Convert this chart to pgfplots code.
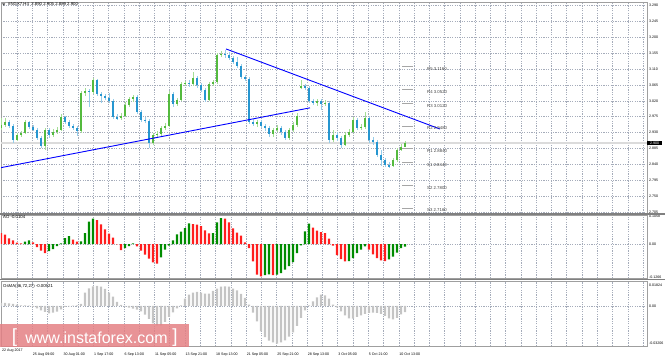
\documentclass[border=0pt]{standalone}
\usepackage{fontspec}
\setmainfont{Liberation Sans}
\usepackage{pgfplots}
\pgfplotsset{compat=1.18}
\usepackage{pgfplotstable}
\definecolor{upbody}{RGB}{84,186,62}
\definecolor{upwick}{RGB}{165,222,150}
\definecolor{dnbody}{RGB}{38,150,208}
\definecolor{dnwick}{RGB}{150,205,235}
\definecolor{aogreen}{RGB}{0,140,0}
\definecolor{aored}{RGB}{255,30,30}
\definecolor{gridc}{RGB}{165,172,186}
\definecolor{sepc}{RGB}{128,128,128}
\definecolor{wm}{RGB}{228,128,132}
\definecolor{osma}{RGB}{196,196,196}
\newcommand\axf{\fontsize{3.6}{4}\selectfont}
\newcommand\txf{\fontsize{4.3}{5}\selectfont}

\pgfplotstableread{
x o h l c
1 2.943 2.971 2.937 2.952
5 2.952 2.971 2.946 2.960
17 2.909 2.929 2.906 2.923
21 2.923 2.935 2.918 2.929
25 2.929 2.966 2.926 2.960
45 2.892 2.943 2.881 2.937
53 2.923 2.940 2.918 2.932
57 2.932 2.946 2.926 2.937
61 2.937 2.983 2.935 2.974
81 2.935 3.048 2.929 3.042
85 3.042 3.056 3.034 3.048
93 3.045 3.085 3.039 3.079
121 2.971 2.986 2.966 2.977
125 2.977 3.017 2.974 3.008
129 3.008 3.031 3.003 3.025
133 3.025 3.037 3.017 3.031
153 2.901 2.929 2.895 2.923
157 2.923 2.935 2.918 2.926
161 2.926 2.949 2.920 2.943
165 2.943 2.957 2.937 2.949
169 2.949 3.048 2.946 3.039
177 3.011 3.028 3.005 3.022
181 3.022 3.073 3.020 3.068
185 3.068 3.076 3.062 3.071
193 3.068 3.102 3.062 3.085
209 3.022 3.073 3.020 3.068
213 3.068 3.079 3.062 3.073
217 3.073 3.156 3.068 3.150
221 3.150 3.161 3.144 3.153
257 2.954 2.966 2.946 2.960
273 2.926 2.943 2.918 2.937
277 2.937 2.952 2.932 2.943
289 2.915 2.943 2.909 2.937
293 2.937 2.960 2.932 2.952
297 2.952 2.986 2.946 2.977
301 3.059 3.079 3.054 3.062
317 3.014 3.025 3.005 3.020
325 3.011 3.022 3.005 3.014
333 2.909 2.937 2.903 2.923
345 2.895 2.932 2.892 2.923
349 2.923 2.940 2.918 2.932
353 2.932 2.974 2.929 2.966
361 2.943 2.954 2.937 2.946
365 2.946 2.988 2.940 2.971
393 2.835 2.858 2.832 2.852
397 2.852 2.886 2.847 2.881
401 2.881 2.898 2.878 2.889
405 2.890 2.905 2.889 2.900
}\upc

\pgfplotstableread{
x o h l c
9 2.960 2.966 2.943 2.949
13 2.949 2.954 2.901 2.909
29 2.960 2.963 2.940 2.946
33 2.946 2.952 2.935 2.937
37 2.937 2.943 2.909 2.915
41 2.915 2.920 2.886 2.892
49 2.937 2.943 2.915 2.923
65 2.974 2.977 2.954 2.960
69 2.960 2.966 2.943 2.949
73 2.949 2.954 2.937 2.943
77 2.943 2.949 2.920 2.935
89 3.048 3.053 3.002 3.045
97 3.079 3.082 3.034 3.039
101 3.039 3.045 3.014 3.034
105 3.034 3.039 3.022 3.028
109 3.028 3.042 3.014 3.020
113 3.020 3.025 2.969 2.974
117 2.974 2.983 2.966 2.971
137 3.031 3.037 2.983 2.988
141 2.988 2.994 2.960 2.966
145 2.966 2.974 2.957 2.963
149 2.963 2.969 2.886 2.901
173 3.039 3.045 3.003 3.011
189 3.071 3.079 3.059 3.068
197 3.085 3.090 3.056 3.065
201 3.065 3.071 3.045 3.051
205 3.051 3.056 3.017 3.022
225 3.153 3.164 3.141 3.150
229 3.150 3.158 3.136 3.141
233 3.141 3.147 3.124 3.130
237 3.130 3.144 3.113 3.119
241 3.119 3.124 3.082 3.088
245 3.088 3.093 3.076 3.082
249 3.082 3.088 2.954 2.960
253 2.960 2.969 2.949 2.954
261 2.960 2.966 2.943 2.949
265 2.949 2.954 2.935 2.943
269 2.943 2.949 2.918 2.926
281 2.943 2.949 2.923 2.932
285 2.932 2.937 2.909 2.915
305 3.062 3.068 3.051 3.056
309 3.056 3.062 3.014 3.020
313 3.020 3.025 3.008 3.014
321 3.020 3.025 2.994 3.011
329 3.014 3.020 2.901 2.909
337 2.923 2.932 2.906 2.915
341 2.915 2.920 2.886 2.895
357 2.966 2.971 2.937 2.943
369 2.971 2.977 2.901 2.909
373 2.909 2.917 2.895 2.903
377 2.903 2.909 2.861 2.866
381 2.866 2.881 2.835 2.852
385 2.852 2.858 2.832 2.838
389 2.838 2.847 2.830 2.835
}\dnc

\pgfplotstableread{
x v
25 0.0089
29 0.0139
49 -0.0266
53 -0.0190
57 -0.0076
61 0.0025
65 0.0228
69 0.0304
81 0.0101
85 0.0418
89 0.0849
93 0.0963
125 -0.0152
129 -0.0076
133 0.0025
161 -0.0507
165 -0.0215
169 -0.0063
173 0.0139
177 0.0367
181 0.0469
185 0.0608
189 0.0786
213 0.0418
217 0.0823
221 0.0988
265 -0.1178
269 -0.1153
277 -0.1166
281 -0.1102
285 -0.0976
289 -0.0836
293 -0.0684
297 -0.0342
301 -0.0051
305 0.0481
309 0.0773
349 -0.0646
353 -0.0532
357 -0.0342
361 -0.0215
365 -0.0089
389 -0.0583
393 -0.0481
397 -0.0329
401 -0.0152
405 -0.0104
}\aoup

\pgfplotstableread{
x v
1 0.0418
5 0.0355
9 0.0215
13 0.0139
17 0.0051
21 0.0025
33 0.0063
37 -0.0114
41 -0.0253
45 -0.0342
73 0.0165
77 0.0089
97 0.0912
101 0.0748
105 0.0557
109 0.0393
113 0.0241
117 -0.0013
121 -0.0228
137 -0.0089
141 -0.0253
145 -0.0405
149 -0.0557
153 -0.0697
157 -0.0748
193 0.0760
197 0.0735
201 0.0684
205 0.0519
209 0.0405
225 0.0963
229 0.0823
233 0.0595
237 0.0431
241 0.0317
245 0.0063
249 -0.0152
253 -0.0659
257 -0.1166
261 -0.1229
273 -0.1178
313 0.0621
317 0.0507
321 0.0456
325 0.0418
329 0.0203
333 -0.0063
337 -0.0418
341 -0.0570
345 -0.0659
369 -0.0215
373 -0.0393
377 -0.0532
381 -0.0621
385 -0.0646
}\aodn

\pgfplotstableread{
x v
1 0.00258
5 0.00258
9 0.00229
13 0.00172
17 0.00115
21 0.00057
25 0.00057
29 0.00029
33 -0.00086
37 -0.00201
41 -0.00373
45 -0.00516
49 -0.00631
53 -0.00573
57 -0.00487
61 -0.00287
65 -0.00086
69 -0.00029
73 0.00029
77 0.00057
81 0.00172
85 0.01147
89 0.01520
93 0.01692
97 0.01720
101 0.01663
105 0.01462
109 0.01147
113 0.00803
117 0.00344
121 0.00086
125 -0.00057
129 -0.00143
133 -0.00229
137 -0.00315
141 -0.00459
145 -0.00745
149 -0.01118
153 -0.01491
157 -0.01663
161 -0.01663
165 -0.01376
169 -0.00946
173 -0.00545
177 -0.00201
181 0.00057
185 0.00631
189 0.00975
193 0.01147
197 0.01204
201 0.01147
205 0.01061
209 0.01061
213 0.01290
217 0.01491
221 0.01663
225 0.01692
229 0.01663
233 0.01491
237 0.01347
241 0.01032
245 0.00688
249 0.00115
253 -0.00573
257 -0.01319
261 -0.02179
265 -0.02666
269 -0.02982
273 -0.03125
277 -0.03240
281 -0.03125
285 -0.02953
289 -0.02638
293 -0.02265
297 -0.01720
301 -0.01032
305 -0.00373
309 0.00057
313 0.00401
317 0.00745
321 0.00975
325 0.00917
329 0.00631
333 0.00115
337 -0.00115
341 -0.00459
345 -0.00803
349 -0.01061
353 -0.01089
357 -0.00946
361 -0.00803
365 -0.00688
369 -0.00602
373 -0.00573
377 -0.00602
381 -0.00688
385 -0.00860
389 -0.01061
393 -0.01147
397 -0.01032
401 -0.00717
405 -0.00521
}\osmat

\pgfplotsset{
  panel/.style={
    scale only axis, width=646pt, xmin=1, xmax=647,
    clip mode=individual,
    scaled y ticks=false, scaled x ticks=false,
    axis line style={draw=gray!75, line width=0.5pt},
    xtick={17,32.27,...,644}, xticklabels={},
    xmajorgrids,
    major grid style={gridc, dash pattern=on 1.2pt off 1.2pt, line width=0.5pt},
    tick style={draw=none},
    yticklabel pos=right,
    yticklabel style={font=\axf, anchor=west, inner sep=0pt, xshift=2pt},
    xticklabel style={font=\axf, anchor=north west, inner sep=0pt, xshift=0.5pt, yshift=-2.6pt},
  },
  candle/.style={draw=none, mark=none, forget plot,
    error bars/.cd, y dir=both, y explicit, error mark=none,
    error bar style={draw=#1, line width=0.75pt}},
  body/.style={draw=none, mark=none, forget plot,
    error bars/.cd, y dir=both, y explicit, error mark=none,
    error bar style={draw=#1, line width=1.5pt}},
}

\begin{document}
\begin{tikzpicture}
% ---------- price panel ----------
\begin{axis}[panel, at={(1pt,144pt)}, anchor=south west, height=211pt,
  ymin=2.702, ymax=3.300, ymajorgrids,
  ytick={2.705,2.750,2.795,2.840,2.885,2.930,2.975,3.020,3.065,3.110,3.155,3.200,3.245,3.290},
  yticklabels={2.705,2.750,2.795,2.840,2.885,2.930,2.975,3.020,3.065,3.110,3.155,3.200,3.245,3.290}]
\addplot[gray!28, line width=1.6pt, forget plot] coordinates {(1,2.900) (647,2.900)};
% wicks
\addplot[candle=upwick] table[x=x, y expr={(\thisrow{h}+\thisrow{l})/2}, y error expr={(\thisrow{h}-\thisrow{l})/2}] {\upc};
\addplot[candle=dnwick] table[x=x, y expr={(\thisrow{h}+\thisrow{l})/2}, y error expr={(\thisrow{h}-\thisrow{l})/2}] {\dnc};
% bodies
\addplot[body=upbody] table[x=x, y expr={(\thisrow{o}+\thisrow{c})/2}, y error expr={abs(\thisrow{c}-\thisrow{o})/2+0.0008}] {\upc};
\addplot[body=dnbody] table[x=x, y expr={(\thisrow{o}+\thisrow{c})/2}, y error expr={abs(\thisrow{c}-\thisrow{o})/2+0.0008}] {\dnc};
% trend lines
\addplot[blue, line width=0.9pt, forget plot] coordinates {(0,2.830) (310,3.000)};
\addplot[blue, line width=0.9pt, forget plot] coordinates {(226,3.167) (440,2.940)};
% pivot levels
\foreach \lv/\lab in {3.116/R5 3.1160, 3.052/R4 3.0520, 3.012/R3 3.0120, 2.948/R2 2.9480, 2.884/R1 2.8840, 2.844/S1 2.8440, 2.780/S2 2.7800, 2.716/S3 2.7160}{
  \edef\temp{\noexpand\addplot[gray!70, line width=1.1pt, forget plot] coordinates {(402,\lv) (413,\lv)};}\temp
  \edef\temp{\noexpand\node[anchor=west, font=\noexpand\txf, text=black!75, inner sep=0pt, yshift=-2.3pt] at (axis cs:427,\lv) {\lab};}\temp
}
\node[anchor=west, fill=black, text=white, font=\axf, inner xsep=2.8pt, inner ysep=0.9pt] at (axis cs:647,2.900) {2.900};
\end{axis}

% ---------- AO panel ----------
\begin{axis}[panel, at={(1pt,79pt)}, anchor=south west, height=63pt,
  ymin=-0.1292, ymax=0.1102,
  ytick={-0.1266,0,0.1058}, yticklabels={-0.1266,0.00,0.1058},
  ybar, bar width=2.3pt, bar shift=0pt]
\addplot[gridc, dash pattern=on 1.2pt off 1.2pt, line width=0.5pt, sharp plot, forget plot] coordinates {(1,0) (647,0)};
\addplot[fill=aogreen, draw=none] table[x=x, y=v] {\aoup};
\addplot[fill=aored, draw=none] table[x=x, y=v] {\aodn};
\end{axis}

% ---------- OsMA panel ----------
\begin{axis}[panel, at={(1pt,11pt)}, anchor=south west, height=65pt,
  ymin=-0.0344, ymax=0.0215,
  ytick={-0.03206,0,0.01824}, yticklabels={-0.03206,0.00,0.01824},
  xticklabels={{},25 Aug 09:00,{},30 Aug 01:00,{},1 Sep 17:00,{},6 Sep 13:00,{},11 Sep 05:00,{},13 Sep 21:00,{},18 Sep 13:00,{},21 Sep 05:00,{},25 Sep 21:00,{},28 Sep 13:00,{},3 Oct 05:00,{},5 Oct 21:00,{},10 Oct 13:00},
  ybar, bar width=2.3pt, bar shift=0pt]
\addplot[gridc, dash pattern=on 1.2pt off 1.2pt, line width=0.5pt, sharp plot, forget plot] coordinates {(1,0) (647,0)};
\addplot[fill=osma, draw=none] table[x=x, y=v] {\osmat};
\end{axis}

% separators and frame
\draw[sepc, line width=1.8pt] (0,143pt) -- (665pt,143pt);
\draw[sepc, line width=1.8pt] (0,77.5pt) -- (665pt,77.5pt);
\node[anchor=north west, font=\axf, inner sep=0pt] at (2pt,8.4pt) {22 Aug 2017};

% labels
\fill[black!70] (2.2pt,353.5pt) -- (5.2pt,353.5pt) -- (3.7pt,351.3pt) -- cycle;
\node[anchor=west, font=\txf, inner sep=0pt] at (8pt,352.3pt) {\#NGX7,H4\ \ 2.890 2.905 2.889 2.900};
\node[anchor=west, font=\txf, inner sep=0pt] at (3pt,139.6pt) {AO -0.0104};
\node[anchor=west, font=\txf, inner sep=0pt] at (3pt,71pt) {OsMA(36,72,27) -0.00521};

% watermark
\fill[wm, opacity=0.85] (0,10pt) rectangle (189pt,33pt);
\node[white, font=\fontsize{19}{19}\selectfont, inner sep=0pt, anchor=base] at (14.5pt,14.5pt) {[};
\node[white, font=\fontsize{19}{19}\selectfont, inner sep=0pt, anchor=base] at (175pt,14.5pt) {]};
\node[white, font=\fontsize{16}{16}\selectfont, inner sep=0pt, anchor=base] at (96.5pt,14pt) {www.instaforex.com};

\pgfresetboundingbox
\useasboundingbox (0,0) rectangle (665pt,357pt);
\end{tikzpicture}
\end{document}
